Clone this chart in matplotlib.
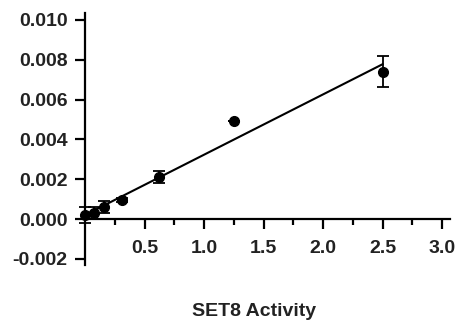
import matplotlib
matplotlib.use("Agg")
import matplotlib.pyplot as plt
import numpy as np
from matplotlib.ticker import FixedLocator

plt.rcParams['font.family'] = ['Liberation Sans', 'DejaVu Sans']

conc = [0.0, 0.078, 0.156, 0.3125, 0.625, 1.25, 2.5]
activity = [0.0002, 0.00028, 0.0006, 0.00095, 0.0021, 0.0049, 0.0074]
err = [0.0004, 0.0003, 0.0003, 0.0001, 0.0003, 0.0, 0.00078]
fit_x = [0.0, 2.5]
fit_slope = 0.00303
fit_intercept = 0.0002

xticks = [0.5, 1.0, 1.5, 2.0, 2.5, 3.0]
yticks = [-0.002, 0.000, 0.002, 0.004, 0.006, 0.008, 0.010]

fig = plt.figure(figsize=(4.56, 3.24), dpi=100)
ax = fig.add_axes([85/456, 1-265/324, (450-85)/456, (265-13)/324])
ax.set_xlim(0, 3.067)
ax.set_ylim(-0.00231, 0.01035)

fx = np.array(fit_x)
ax.plot(fx, fit_slope*fx + fit_intercept, color='black', lw=1.5, clip_on=False, zorder=2)
ax.errorbar(conc, activity, yerr=err, fmt='o', color='black', ms=7,
            capsize=4, elinewidth=1.3, capthick=1.3, clip_on=False, zorder=3)

for s in ['top', 'right']:
    ax.spines[s].set_visible(False)
ax.spines['left'].set_position(('data', 0))
ax.spines['bottom'].set_position(('data', 0))
ax.spines['left'].set_linewidth(1.6)
ax.spines['bottom'].set_linewidth(1.6)

ax.xaxis.set_major_locator(FixedLocator(xticks))
ax.xaxis.set_minor_locator(FixedLocator([0.25, 0.75, 1.25, 1.75, 2.25, 2.75]))
ax.set_xticklabels([f"{v:.1f}" for v in xticks])
ax.yaxis.set_major_locator(FixedLocator(yticks))
ax.set_yticklabels([f"{v:.3f}" for v in yticks])

ax.tick_params(axis='x', which='major', direction='out', length=7, width=1.6, pad=8)
ax.tick_params(axis='x', which='minor', direction='out', length=4, width=1.6)
ax.tick_params(axis='y', which='major', direction='out', length=7, width=1.6, pad=5.5)
for lab in ax.get_xticklabels() + ax.get_yticklabels():
    lab.set_fontsize(14)
    lab.set_fontweight('bold')
    lab.set_color('#222222')

fig.text(254.5/456, 1-311/324, 'SET8 Activity', ha='center', va='center',
         fontsize=14, fontweight='bold', color='#222222')

fig.savefig('out.png', dpi=100)
